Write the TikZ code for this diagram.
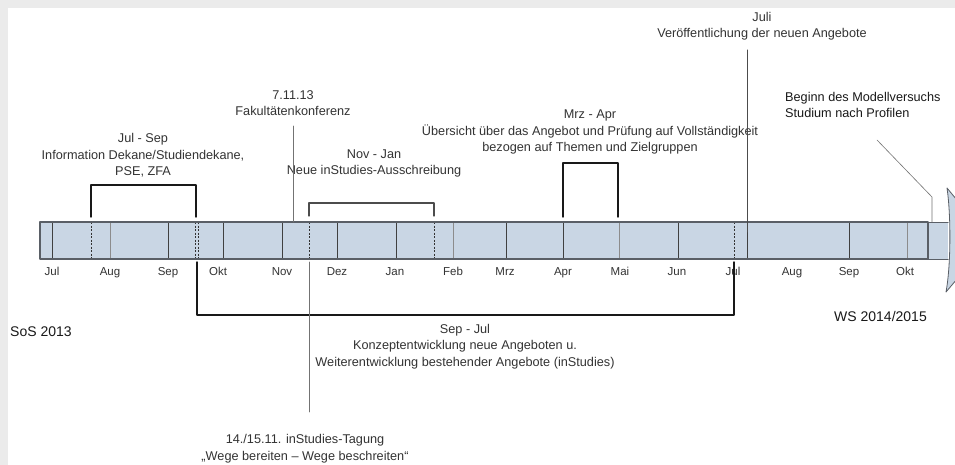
\documentclass[tikz,border=0pt]{standalone}
\usepackage{fontspec}
\setmainfont{Liberation Sans}
\definecolor{framegray}{HTML}{EBEBEB}
\definecolor{barfill}{HTML}{C9D6E4}
\definecolor{barline}{HTML}{5A5F66}
\begin{document}
\begin{tikzpicture}[x=1pt, y=-1pt, line join=round, line cap=round,
  note/.style={align=center, font=\fontsize{12.7}{16.5}\selectfont, text=black!80, inner sep=0pt},
  month/.style={font=\fontsize{11.5}{14}\selectfont, text=black!80, inner sep=0pt, anchor=base},
  big/.style={font=\fontsize{14}{17}\selectfont, text=black!90, inner sep=0pt},
  bracket/.style={line width=1.4pt, black!90},
  pin/.style={line width=0.8pt, black!55},
  tick/.style={line width=0.9pt, black!75},
  thintick/.style={line width=0.5pt, black!45},
  dashtick/.style={line width=0.9pt, black!80, line cap=butt, dash pattern=on 2pt off 1.5pt}]
	\useasboundingbox (0,0) rectangle (955,465);
	\clip (0,0) rectangle (955,465);
	% frame
	\fill[framegray] (0,0) rectangle (955,465);
	\fill[white] (8,8) rectangle (955,465);
	% timeline bar with arrow
	\path (40,222) coordinate (barNW)
		(928,259) coordinate (barSE)
		(948,222) coordinate (extN)
		(948,259) coordinate (extS)
		(928,222) coordinate (barNE)
		(928,259) coordinate (barSE2);
	\filldraw[fill=barfill, draw=barline, line width=0.8pt] (947,188) .. controls (951,215) and (951,265) .. (946,292) -- (990,240) -- cycle;
	\fill[barfill] (barNE) rectangle (extS);
	\draw[barline, line width=1pt] (barNE) -- (extN) (barSE2) -- (extS);
	\fill[barfill] (barNW) rectangle (barSE);
	\foreach \x in {52,168,223,282,337,396,506,563,678,747,849}
		\draw[tick] (\x,222) -- (\x,259);
	\foreach \x in {110,453,619,907}
		\draw[thintick] (\x,222) -- (\x,259);
	\foreach \x in {91,195,198,309,434,734}
		\draw[dashtick] (\x,222) -- (\x,259);
	\draw[barline, line width=1.2pt] (barNW) rectangle (barSE);
	% months
	\foreach \x/\m [count=\i] in {52/Jul,110/Aug,168/Sep,218/Okt,282/Nov,337/Dez,395/Jan,453/Feb,505/Mrz,563/Apr,620/Mai,677/Jun,733/Jul,792/Aug,849/Sep,905/Okt}
		\node[month] (m\i) at (\x,275) {\m};
	% notes
	\node[note] (fak) at (293,103) {7.11.13\\Fakultätenkonferenz};
	\node[note] (julsep) at (143,155.5) {Jul - Sep\\Information Dekane/Studiendekane,\\PSE, ZFA};
	\node[note] (novjan) at (374,163.5) {Nov - Jan\\Neue inStudies-Ausschreibung};
	\node[note] (mrzapr) at (590,132) {Mrz - Apr\\Übersicht über das Angebot und Prüfung auf Vollständigkeit\\bezogen auf Themen und Zielgruppen};
	\node[note] (juli) at (762,26) {Juli\\Veröffentlichung der neuen Angebote};
	\node[note, align=left, anchor=west, text=black!90] (beginn) at (785,105) {Beginn des Modellversuchs\\Studium nach Profilen};
	\node[big, anchor=west] (sos) at (10,332) {SoS 2013};
	\node[big, anchor=east] (ws) at (927,316) {WS 2014/2015};
	\node[note] (sepjul) at (465,346.5) {Sep - Jul\\Konzeptentwicklung neue Angeboten u.\\Weiterentwicklung bestehender Angebote (inStudies)};
	\node[note] (tagung) at (305,448.5) {14./15.11. inStudies-Tagung\\„Wege bereiten – Wege beschreiten“};
	% brackets and pins
	\path (91,217) coordinate (jsA) (196,217) coordinate (jsB)
		(309,216) coordinate (njA) (434,216) coordinate (njB)
		(563,217) coordinate (maA) (618,217) coordinate (maB)
		(197,262) coordinate (sjA) (734,262) coordinate (sjB)
		(293,126) coordinate (fakTop) (293,222) coordinate (fakFoot)
		(747,50) coordinate (juliTop) (747,232) coordinate (juliFoot)
		(309,262) coordinate (tgTop) (309,412) coordinate (tgFoot)
		(877,140) coordinate (bgA) (932,197) coordinate (bgB) (932,222) coordinate (bgC);
	\draw[bracket] (jsA) -- ++(0,-32) -| (jsB);
	\draw[bracket, black!70, line width=1.1pt] (njA) -- ++(0,-13) -| (njB);
	\draw[bracket] (maA) -- ++(0,-54) -| (maB);
	\draw[bracket] (sjA) -- ++(0,53) -| (sjB);
	\draw[pin] (fakTop) -- (fakFoot);
	\draw[pin, black!70, line width=1pt] (juliTop) -- (juliFoot);
	\draw[pin] (tgTop) -- (tgFoot);
	\draw[pin, line width=0.6pt] (bgA) -- (bgB) -- (bgC);
\end{tikzpicture}
\end{document}
